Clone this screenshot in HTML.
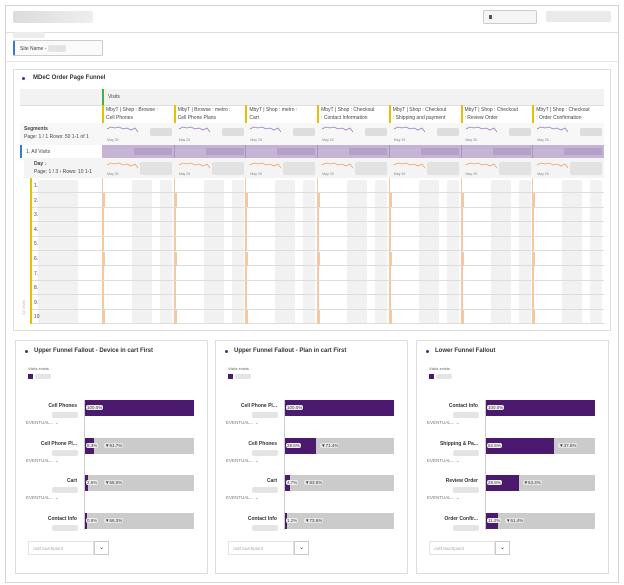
<!DOCTYPE html>
<html><head><meta charset="utf-8">
<style>
*{box-sizing:border-box;margin:0;padding:0}
body{width:624px;height:585px;background:#fff;font-family:"Liberation Sans",sans-serif;position:relative;overflow:hidden;color:#333}
.a{position:absolute}
.blur{position:absolute;background:#e4e4e4;border-radius:2px}
.t{position:absolute;font-size:5px;white-space:nowrap;color:#444}
.panel{position:absolute;border:1px solid #ddd;background:#fff}
</style></head><body>
<div class="a" style="left:5px;top:5px;width:614px;height:578px;border:1px solid #d4d4d4"></div>
<div class="a" style="left:6px;top:6px;width:612px;height:27px;border-bottom:1px solid #ddd"></div>
<div class="blur" style="left:13px;top:11px;width:80px;height:12px;background:linear-gradient(90deg,#dcdcdc,#eee)"></div>
<div class="a" style="left:483px;top:10px;width:54px;height:14px;border:1px solid #ccc;border-radius:2px;background:#f5f5f5"><div class="a" style="left:5px;top:4px;width:3px;height:4px;background:#555"></div></div>
<div class="blur" style="left:546px;top:11px;width:65px;height:11px;background:#eaeaea"></div>
<div class="blur" style="left:13px;top:32px;width:32px;height:6px;background:#ececec"></div>
<div class="a" style="left:13px;top:40px;width:90px;height:16px;border:1px solid #ccc;border-left:2px solid #2d7be5;border-radius:2px;background:#fafafa"><span class="t" style="left:5px;top:5px;font-size:5px">Site Name -</span><div class="blur" style="left:33px;top:4px;width:18px;height:7px"></div></div>
<div class="a" style="left:6px;top:61px;width:612px;height:1px;background:#e6e6e6"></div>

<div class="panel" style="left:13px;top:69px;width:598px;height:262px"></div>
<div class="a" style="left:22px;top:77px;width:3px;height:3px;border-radius:50%;background:#5a2b86"></div>
<div class="t" style="left:33px;top:75px;font-size:6px;font-weight:bold;color:#333">MDeC Order Page Funnel</div>
<div id="table" class="a" style="left:0;top:0;width:624px;height:585px"></div>

<div id="funnels"></div>

<script>
const columns=["MbyT | Shop : Browse :^Cell Phones","MbyT | Browse : metro :^Cell Phone Plans","MbyT | Shop : metro :^Cart","MbyT | Shop : Checkout^: Contact Information","MbyT | Shop : Checkout^: Shipping and payment","MbyT | Shop : Checkout^: Review Order","MbyT | Shop : Checkout^: Order Confirmation"];
const rowLabels=["1.","2.","3.","4.","5.","6.","7.","8.","9.","10"];
const rowBarW=[1,3,2,2,2,3,2,2,2,3];

const panelTitles=["Upper Funnel Fallout - Device in cart First","Upper Funnel Fallout - Plan in cart First","Lower Funnel Fallout"];
const stepNames1=["Cell Phones","Cell Phone Pl...","Cart","Contact Info"];
const stepNames2=["Cell Phone Pl...","Cell Phones","Cart","Contact Info"];
const stepNames3=["Contact Info","Shipping & Pa...","Review Order","Order Confir..."];
const stepValues1=[100,8.3,2.6,0.8];
const stepValues2=[100,28.6,4.7,1.2];
const stepValues3=[100,62.5,29.9,11.2];
const dropValues1=[null,91.7,68.5,68.3];
const dropValues2=[null,71.4,83.5,73.6];
const dropValues3=[null,37.5,53.4,61.4];

const T=document.getElementById('table');
function el(parent,css,txt,cls){const d=document.createElement('div');d.className=cls||'a';d.style.cssText=css;if(txt!==undefined)d.textContent=txt;parent.appendChild(d);return d;}
el(T,'left:20px;top:89px;width:584px;height:16px;background:#f2f2f2');
const vh=el(T,'left:102px;top:89px;width:502px;height:16px;border-left:2px solid #3cb44b');


el(T,'left:108px;top:94px;font-size:5px','Visits','t');
el(T,'left:20px;top:105px;width:584px;height:1px;background:#ddd');
const colX=c=>102+c*71.7;
el(T,'left:20px;top:123px;width:584px;height:22px;background:#f7f7f7');
el(T,'left:102px;top:145px;width:502px;height:13px;background:#c6b4d6');
el(T,'left:20px;top:145px;width:82px;height:13px;background:#fff;border-left:2px solid #2d7be5');
el(T,'left:26px;top:149px;font-size:5px','1.  All Visits','t');
el(T,'left:24px;top:158px;width:580px;height:20px;background:#f4f4f4');
el(T,'left:24px;top:126px;font-size:5px;font-weight:bold','Segments','t');
el(T,'left:24px;top:134px;font-size:5px','Page: 1 / 1  Rows: 50   1-1 of 1','t');
el(T,'left:34px;top:161px;font-size:5px;font-weight:bold','Day  ↓','t');
el(T,'left:34px;top:169px;font-size:5px','Page: 1 / 3 ›  Rows: 10  1-1','t');
el(T,'left:30px;top:178px;width:2px;height:146px;background:#e5c200');
el(T,'left:16px;top:305px;font-size:4px;color:#bbb;transform:rotate(-90deg)','All Visits','t');
function spark(parent,x,y,color){
  const s=document.createElementNS('http://www.w3.org/2000/svg','svg');
  s.setAttribute('width','32');s.setAttribute('height','10');
  s.style.cssText='position:absolute;left:'+x+'px;top:'+y+'px';
  s.innerHTML='<polyline fill="none" stroke="'+color+'" stroke-width="0.8" points="0,5 4,3 8,4 12,3 16,5 20,4 24,6 28,4 31,8"/>';
  parent.appendChild(s);
}
columns.forEach((c,i)=>{
  const x=colX(i);
  const h=el(T,'left:'+x+'px;top:105px;width:72px;height:18px;border-left:2px solid #e5c200');
  
  
  const p=c.split('^');
  el(T,'left:'+(x+4)+'px;top:107px;font-size:5px',p[0],'t');
  el(T,'left:'+(x+4)+'px;top:115px;font-size:5px',p[1],'t');
  spark(T,x+5,124,'#9a7bbf');
  el(T,'left:'+(x+5)+'px;top:138px;font-size:3.5px;color:#888','May 25','t');
  el(T,'left:'+(x+48)+'px;top:128px;width:22px;height:8px;background:#ddd','', 'blur');
  if(i>0) el(T,'left:'+x+'px;top:145px;width:1px;height:13px;background:#a996bd');
  el(T,'left:'+(x+32)+'px;top:148px;width:38px;height:7px;background:#b4a0c8');
  spark(T,x+5,160,'#f0a060');
  el(T,'left:'+(x+5)+'px;top:172px;font-size:3.5px;color:#888','May 25','t');
  el(T,'left:'+(x+38)+'px;top:162px;width:32px;height:13px;background:#e2e2e2','', 'blur');
  el(T,'left:'+x+'px;top:178px;width:1px;height:146px;background:#f1c8a5');
  el(T,'left:'+(x+30)+'px;top:180px;width:20px;height:144px;background:#f1f1f1','', 'blur');
  el(T,'left:'+(x+58)+'px;top:180px;width:12px;height:144px;background:#f2f2f2','', 'blur');
});
el(T,'left:38px;top:180px;width:40px;height:144px;background:#f1f1f1','', 'blur');
rowLabels.forEach((r,i)=>{
  const y=178+i*14.6;
  el(T,'left:34px;top:'+(y+5)+'px;font-size:5px',r,'t');
  el(T,'left:32px;top:'+(y+14)+'px;width:572px;height:1px;background:#ddd');
  columns.forEach((c,j)=>{
    const b=el(T,'left:'+colX(j)+'px;top:'+(y+0.5)+'px;width:'+rowBarW[i]+'px;height:14px;background:#f5c9a0');
    
    
  });
});

const F=document.getElementById('funnels');
const panels=[[15,stepNames1,stepValues1,dropValues1],[215,stepNames2,stepValues2,dropValues2],[416,stepNames3,stepValues3,dropValues3]];
panels.forEach((pd,pi)=>{
  const px=pd[0];
  const P=el(F,'left:'+px+'px;top:340px;width:193px;height:234px','', 'panel');
  
  
  el(P,'left:9px;top:9px;width:3px;height:3px;border-radius:50%;background:#5a2b86');
  el(P,'left:18px;top:7px;font-size:6px;font-weight:bold;color:#333',panelTitles[pi],'t');
  el(P,'left:12px;top:25px;font-size:4px;color:#666','Visits exists','t');
  el(P,'left:12px;top:33px;width:5px;height:5px;background:#4b1a6e');
  el(P,'left:19px;top:33px;width:16px;height:5px','', 'blur');
  const axisX=68, barW=109;
  el(P,'left:'+axisX+'px;top:59px;width:1px;height:130px;background:#ccc');
  pd[2].forEach((v,i)=>{
    const y=59+i*37.7;
    const lab=el(P,'left:0;top:'+(y+3)+'px;width:'+(axisX-7)+'px;text-align:right;font-size:5px;font-weight:bold;color:#333',pd[1][i],'t');
    
    
    el(P,'left:'+(axisX-32)+'px;top:'+(y+12)+'px;width:26px;height:6px','', 'blur');
    if(i<3) el(P,'left:10px;top:'+(y+20)+'px;font-size:4.5px;color:#777','EVENTUAL...  ⌄','t');
    const w=v/100*barW;
    const g=el(P,'left:'+(axisX+1)+'px;top:'+y+'px;width:'+barW+'px;height:16px;background:#cbcbcb');
    
    
    const b=el(P,'left:'+(axisX+1)+'px;top:'+y+'px;width:'+Math.max(w,1.5)+'px;height:16px;background:#4b1a6e');
    
    
    el(P,'left:'+(axisX+2)+'px;top:'+(y+5)+'px;font-size:4.5px;background:#eee;border-radius:2px;padding:0 1px;color:#444',v.toFixed(1)+'%','t');
    if(pd[3][i]!==null){
      const dx=Math.max(axisX+2+w+3,axisX+20);
      el(P,'left:'+dx+'px;top:'+(y+5)+'px;font-size:4.5px;background:#e4e4e4;border-radius:2px;padding:0 1px;color:#444','▼'+pd[3][i].toFixed(1)+'%','t');
    }
  });
  const at=el(P,'left:12px;top:200px;width:66px;height:14px;border:1px solid #e3e3e3;background:#fff');
  
  
  el(at,'left:4px;top:4px;font-size:4.5px;font-style:italic;color:#aaa','Add touchpoint','t');
  const dd=el(P,'left:78px;top:200px;width:15px;height:14px;border:1px solid #ccc;background:#fff;font-size:6px;text-align:center;line-height:12px;color:#333','⌄');
  
  
});
</script>
</body></html>
